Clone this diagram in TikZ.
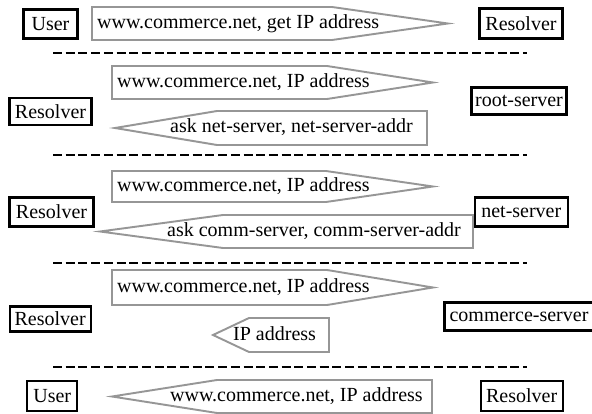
\documentclass[tikz,border=0pt]{standalone}
\usepackage{fontspec}
\setmainfont{Liberation Serif}
\definecolor{msggray}{RGB}{150,150,150}
\begin{document}
\begin{tikzpicture}[x=1pt,y=-1pt,
  box/.style={draw=black,line width=2.3pt,inner sep=0pt,font=\fontsize{20}{24}\selectfont},
  msg/.style={draw=msggray,line width=1.9pt,line join=miter},
  lbl/.style={anchor=base west,inner sep=0pt,font=\fontsize{20}{24}\selectfont},
  sepline/.style={draw=black,line width=2.2pt,dash pattern=on 9pt off 3.7pt}]
\clip (0,0) rectangle (592,414);
\fill[white] (0,0) rectangle (592,414);

% row 1
\node[box,minimum width=54pt,minimum height=29pt] (user1) at (50.5,24) {User};
\node[box,minimum width=83pt,minimum height=30pt] (res1) at (521,23.5) {Resolver};
\draw[msg] (92,7) -- (332,7) -- (448,23.5) -- (332,40) -- (92,40) -- cycle;
\node[lbl] (m1) at (97,28.5) {www.commerce.net, get IP address};
\coordinate (d1a) at (53,53); \coordinate (d1b) at (527,53);
\draw[sepline] (d1a) -- (d1b);

% row 2
\node[box,minimum width=82pt,minimum height=27pt] (res2) at (50.5,111.5) {Resolver};
\node[box,minimum width=95pt,minimum height=27pt] (root) at (519,101) {root-server};
\draw[msg] (112,66) -- (327,66) -- (433,82.5) -- (327,99) -- (112,99) -- cycle;
\node[lbl] (m2a) at (117,87.5) {www.commerce.net, IP address};
\draw[msg] (115,128) -- (217,111) -- (427,111) -- (427,145) -- (217,145) -- cycle;
\node[lbl] (m2b) at (170,133) {ask net-server, net-server-addr};
\coordinate (d2a) at (53,155); \coordinate (d2b) at (527,155);
\draw[sepline] (d2a) -- (d2b);

% row 3
\node[box,minimum width=84pt,minimum height=29pt] (res3) at (51.5,212) {Resolver};
\node[box,minimum width=93pt,minimum height=29pt] (net) at (521.3,212) {net-server};
\draw[msg] (112,171) -- (326,171) -- (433,186.5) -- (326,202) -- (112,202) -- cycle;
\node[lbl] (m3a) at (117,191.5) {www.commerce.net, IP address};
\draw[msg] (100,231.5) -- (223,215) -- (473,215) -- (473,248) -- (223,248) -- cycle;
\node[lbl] (m3b) at (167,236.5) {ask comm-server, comm-server-addr};
\coordinate (d3a) at (53,263.3); \coordinate (d3b) at (527,263.3);
\draw[sepline] (d3a) -- (d3b);

% row 4
\node[box,minimum width=81pt,minimum height=25pt] (res4) at (50.2,319) {Resolver};
\node[box,minimum width=149pt,minimum height=28pt] (comm) at (519,316.5) {commerce-server};
\draw[msg] (112,270) -- (327,270) -- (433,287.5) -- (327,305) -- (112,305) -- cycle;
\node[lbl] (m4a) at (117,292.5) {www.commerce.net, IP address};
\draw[msg] (213,335) -- (249,318) -- (329,318) -- (329,352) -- (249,352) -- cycle;
\node[lbl] (m4b) at (233,340) {IP address};
\coordinate (d4a) at (53,367.3); \coordinate (d4b) at (527,367.3);
\draw[sepline] (d4a) -- (d4b);

% row 5
\node[box,minimum width=50pt,minimum height=30pt] (user5) at (52.2,396) {User};
\node[box,minimum width=82pt,minimum height=30pt] (res5) at (521.7,396) {Resolver};
\draw[msg] (112,396.5) -- (217,380) -- (432,380) -- (432,413) -- (217,413) -- cycle;
\node[lbl] (m5) at (170,401) {www.commerce.net, IP address};
\end{tikzpicture}
\end{document}
